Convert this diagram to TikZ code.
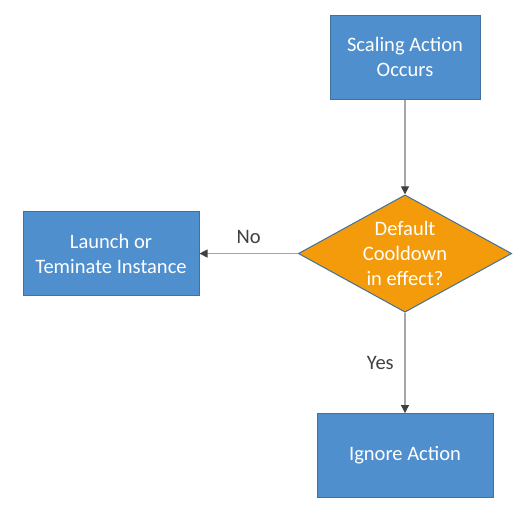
\documentclass[tikz,border=0pt]{standalone}
\usepackage{fontspec}
\setmainfont{Carlito}
\usepackage{xcolor}
\definecolor{boxblue}{HTML}{4F8FCD}
\definecolor{boxborder}{HTML}{41719C}
\definecolor{amber}{HTML}{F49B0B}
\definecolor{wire}{HTML}{A6A6A6}
\definecolor{tipgray}{HTML}{404040}
\usepackage{tikz}
\usetikzlibrary{
    arrows.meta,
    positioning,
    shapes.geometric,
}

\begin{document}
\begin{tikzpicture}[%
    x=0.75pt,
    y=-0.75pt,
    on grid,
    every node/.style={
        font=\fontsize{15.4}{18.75}\selectfont,
        align=center,
        inner sep=0,
    },
    action/.style={
        rectangle,
        minimum height=63pt,
        line width=0.75pt,
        draw=boxborder,
        fill=boxblue,
        text=white,
    },
    decision/.style={
        diamond,
        minimum width=160pt,
        minimum height=88pt,
        line width=0.75pt,
        draw=boxborder,
        fill=amber,
    },
    flow/.style={
        draw=wire,
        line width=0.9pt,
        -{Triangle[length=6pt,width=6pt,color=tipgray]}
    },
    answer/.style={
        text=tipgray,
    }
]

\useasboundingbox (0,0) rectangle (520,507);

\node [action, minimum width=112.5pt] (scaling) at (405,57) {Scaling Action\\Occurs};
\node [decision, below=147.4pt of scaling,
    label={[text=white]center:{Default\\Cooldown\\in effect?}}] (cooldown) {};
\node [action, minimum width=132pt, left=220.5pt of cooldown] (launch) {Launch or\\Teminate Instance};
\node [action, minimum width=132pt, below=151.5pt of cooldown] (ignore) {Ignore Action};

\draw [flow] (scaling) -- (cooldown);
\draw [flow] (cooldown) -- node [answer, above=7pt] (no) {No} (launch);
\draw [flow] (cooldown) -- node [answer, left=8pt] (yes) {Yes} (ignore);

\end{tikzpicture}
\end{document}
